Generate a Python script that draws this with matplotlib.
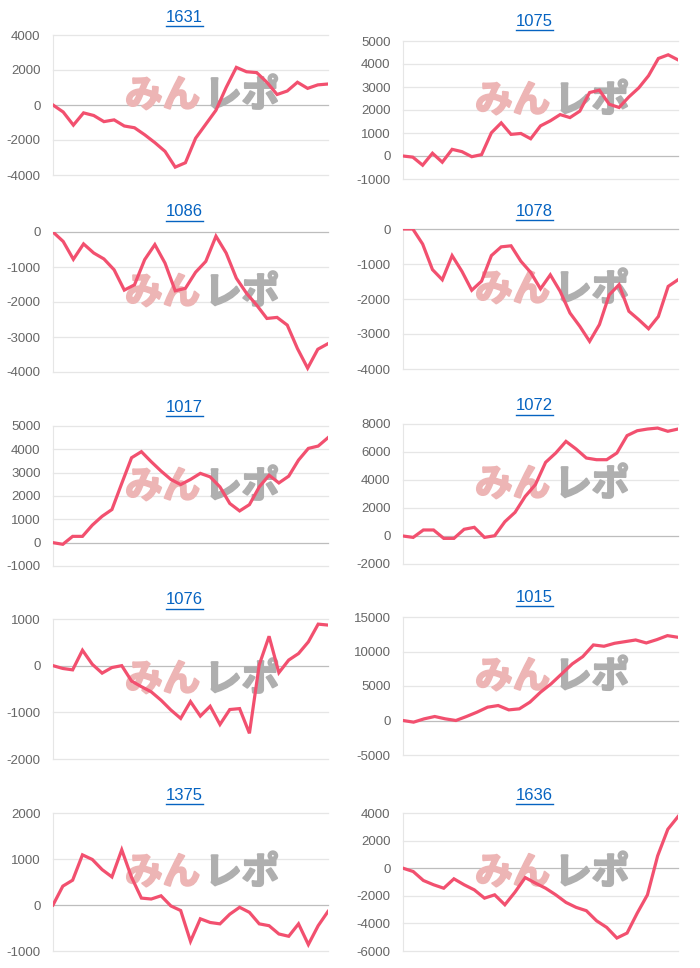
import matplotlib.pyplot as plt
import matplotlib.patheffects as pe
from matplotlib.lines import Line2D

# machine numbers and cumulative difference per day
names = ["1631", "1075", "1086", "1078", "1017", "1072", "1076", "1015", "1375", "1636"]

d1631 = [0, -400, -1150, -450, -600, -950, -850, -1200, -1300, -1700, -2150, -2650, -3550, -3300,
         -1900, -1100, -300, 1000, 2150, 1900, 1850, 1300, 600, 800, 1300, 950, 1150, 1200]
d1075 = [0, -50, -400, 120, -270, 290, 190, -30, 60, 1010, 1440, 940, 980, 750, 1310, 1530, 1800,
         1670, 1950, 2760, 2860, 2250, 2110, 2570, 2960, 3490, 4240, 4400, 4180]
d1086 = [0, -270, -780, -340, -600, -770, -1080, -1660, -1510, -790, -360, -890, -1680, -1610,
         -1150, -840, -120, -600, -1320, -1750, -2090, -2470, -2440, -2660, -3330, -3890, -3350, -3190]
d1078 = [0, 0, -430, -1160, -1450, -760, -1210, -1750, -1490, -760, -510, -480, -920, -1240, -1710,
         -1310, -1780, -2400, -2780, -3210, -2730, -1880, -1590, -2350, -2590, -2850, -2500, -1640, -1450]
d1017 = [0, -70, 270, 270, 750, 1130, 1420, 2540, 3640, 3900, 3470, 3070, 2710, 2490, 2710, 2970,
         2820, 2390, 1680, 1360, 1630, 2390, 2890, 2560, 2850, 3540, 4040, 4140, 4500]
d1072 = [0, -100, 430, 430, -170, -170, 480, 620, -100, 20, 1020, 1690, 2830, 3670, 5260, 5930,
         6760, 6210, 5570, 5450, 5450, 5930, 7170, 7520, 7640, 7710, 7480, 7640]
d1076 = [0, -60, -90, 330, 30, -160, -40, 0, -330, -450, -560, -740, -950, -1130, -770, -1080, -870,
         -1260, -940, -920, -1450, 20, 630, -150, 120, 260, 510, 890, 870]
d1015 = [0, -240, 240, 580, 240, 0, 580, 1210, 1930, 2170, 1540, 1690, 2660, 4100, 5310, 6750, 8200,
         9260, 10950, 10760, 11190, 11430, 11670, 11240, 11720, 12300, 12060]
d1375 = [0, 410, 540, 1090, 990, 770, 610, 1200, 600, 150, 130, 200, -20, -120, -790, -300, -380,
         -410, -200, -50, -160, -410, -450, -630, -680, -410, -860, -450, -140]
d1636 = [0, -240, -890, -1200, -1450, -770, -1200, -1570, -2170, -1930, -2650, -1730, -680, -1080,
         -1450, -1930, -2480, -2840, -3080, -3810, -4290, -5060, -4700, -3250, -1930, 890, 2820, 3740]

series = [d1631, d1075, d1086, d1078, d1017, d1072, d1076, d1015, d1375, d1636]
ylims = [(-4000, 4000, 2000), (-1000, 5000, 1000), (-4000, 0, 1000), (-4000, 0, 1000),
         (-1000, 5000, 1000), (-2000, 8000, 2000), (-2000, 1000, 1000), (-5000, 15000, 5000),
         (-1000, 2000, 1000), (-6000, 4000, 2000)]

W, H = 700, 968
# axes boxes in pixels: left, top, right, bottom
boxes = [(53, 35, 328, 175), (403, 41, 678, 179),
         (53, 232, 328, 372), (403, 229, 678, 369),
         (53, 426, 328, 566), (403, 424, 678, 564),
         (53, 619, 328, 759), (403, 617, 678, 755),
         (53, 813, 328, 951), (403, 813, 678, 951)]
title_y = [17, 21, 212, 211, 407, 406, 600, 597, 795, 795]

line_color = "#F2506F"
plt.rcParams['font.family'] = ['Liberation Sans', 'DejaVu Sans']
plt.rcParams['axes.unicode_minus'] = False

fig = plt.figure(figsize=(W / 100, H / 100), dpi=100)
titles = []
for i in range(10):
    l, t, r, b = boxes[i]
    ax = fig.add_axes([l / W, 1 - b / H, (r - l) / W, (b - t) / H])
    y = series[i]
    lo, hi, step = ylims[i]
    ticks = list(range(lo, hi + 1, step))
    ax.set_ylim(lo, hi)
    ax.set_xlim(0, len(y) - 1)
    ax.set_yticks(ticks)
    ax.set_xticks([])
    for tk in ticks:
        c = "#BDBDBD" if tk == 0 else "#E6E6E6"
        ax.axhline(tk, color=c, lw=0.9, zorder=1, clip_on=False)
    for s in ["top", "right", "bottom"]:
        ax.spines[s].set_visible(False)
    ax.spines["left"].set_color("#E6E6E6")
    ax.tick_params(axis="y", length=0, pad=9, labelsize=9.5, labelcolor="#666666")

    # watermark
    ax.text(0.535, 0.57, "みん", transform=ax.transAxes, ha="right", va="center",
            fontsize=27, fontweight="bold", color="#EDB5B5", family=["Noto Sans CJK JP"], zorder=2,
            path_effects=[pe.withStroke(linewidth=1.5, foreground="#EDB5B5")])
    ax.text(0.55, 0.57, "レポ", transform=ax.transAxes, ha="left", va="center",
            fontsize=27, fontweight="bold", color="#AFAFAF", family=["Noto Sans CJK JP"], zorder=2,
            path_effects=[pe.withStroke(linewidth=1.5, foreground="#AFAFAF")])

    ax.plot(range(len(y)), y, color=line_color, lw=2.3, zorder=3, solid_joinstyle="miter")

    tx = ((l + r) / 2 - 6) / W
    titles.append(fig.text(tx, 1 - title_y[i] / H, names[i], ha="center", va="center",
                           fontsize=12, color="#0563C1"))

# underline the titles
fig.canvas.draw()
rend = fig.canvas.get_renderer()
for tt in titles:
    bb = tt.get_window_extent(rend)
    yy = (bb.y0 - 1) / H
    fig.add_artist(Line2D([bb.x0 / W, bb.x1 / W], [yy, yy], color="#0563C1", lw=1.0))

fig.savefig("out.png", dpi=100)
